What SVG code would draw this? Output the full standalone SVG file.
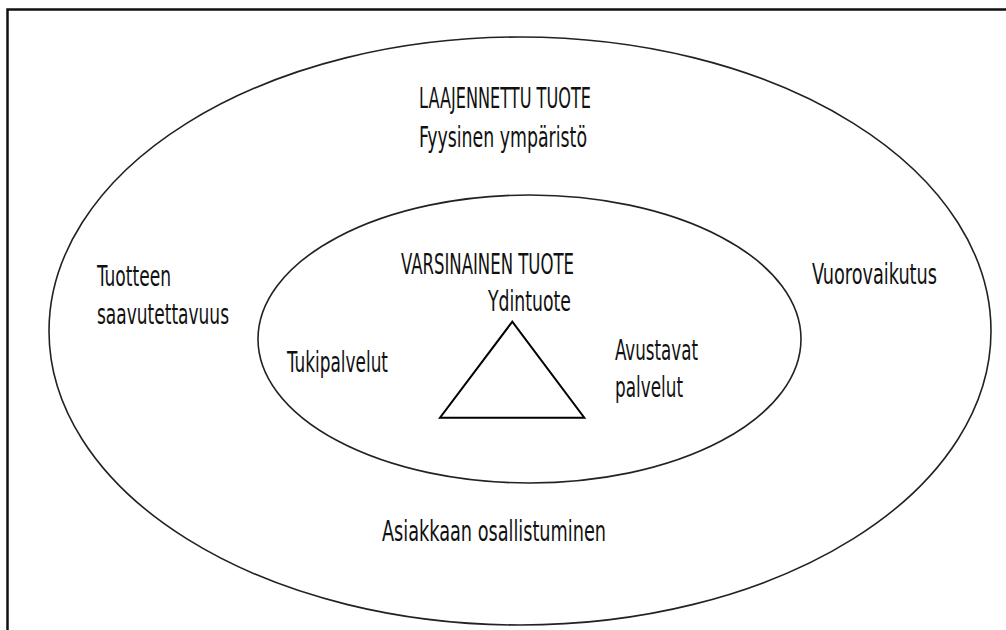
<svg xmlns="http://www.w3.org/2000/svg" width="1006" height="630" viewBox="0 0 1006 630">
<style>
.t{font-family:"DejaVu Sans Condensed","Liberation Sans Narrow","Liberation Sans",sans-serif;font-size:29px;fill:#111;}
.ell{fill:none;stroke:#222;stroke-width:1.6;}
</style>
<rect width="1006" height="630" fill="#fff"/>
<path d="M7.5 630 V9.5 H1006" fill="none" stroke="#111" stroke-width="2.5"/>
<g id="outer">
<ellipse class="ell" cx="520" cy="331" rx="471" ry="294"/>
<text class="t" x="419" y="107.5" textLength="172" lengthAdjust="spacingAndGlyphs">LAAJENNETTU TUOTE</text>
<text class="t" x="419" y="146.5" textLength="168" lengthAdjust="spacingAndGlyphs">Fyysinen ympäristö</text>
<text class="t" x="97" y="285.5" textLength="74" lengthAdjust="spacingAndGlyphs">Tuotteen</text>
<text class="t" x="97" y="323.5" textLength="132" lengthAdjust="spacingAndGlyphs">saavutettavuus</text>
<text class="t" x="812" y="283.5" textLength="125" lengthAdjust="spacingAndGlyphs">Vuorovaikutus</text>
<text class="t" x="382" y="540.5" textLength="224" lengthAdjust="spacingAndGlyphs">Asiakkaan osallistuminen</text>
</g>
<g id="inner">
<ellipse class="ell" cx="529.5" cy="339" rx="271.5" ry="144"/>
<text class="t" x="401" y="273.5" textLength="173" lengthAdjust="spacingAndGlyphs">VARSINAINEN TUOTE</text>
<text class="t" x="287" y="371.5" textLength="101" lengthAdjust="spacingAndGlyphs">Tukipalvelut</text>
<text class="t" x="615" y="359.5" textLength="83" lengthAdjust="spacingAndGlyphs">Avustavat</text>
<text class="t" x="615" y="397" textLength="68" lengthAdjust="spacingAndGlyphs">palvelut</text>
</g>
<g id="core">
<polygon points="512.3,321.7 440,417.7 584.3,417.7" fill="none" stroke="#000" stroke-width="2"/>
<text class="t" x="488" y="311" textLength="83" lengthAdjust="spacingAndGlyphs">Ydintuote</text>
</g>
</svg>
